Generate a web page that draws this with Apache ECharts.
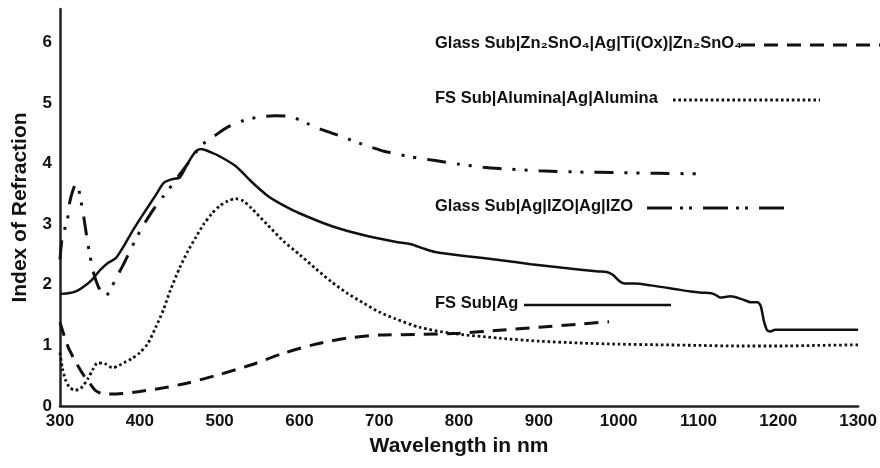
<!DOCTYPE html>
<html>
<head>
<meta charset="utf-8">
<script src="https://cdn.jsdelivr.net/npm/echarts@6/dist/echarts.min.js"></script>
<style>html,body{margin:0;padding:0;background:#fff}#c{width:880px;height:468px}</style>
</head>
<body>
<div id="c"></div>
<script>
// ---- data (wavelength in nm, index of refraction) ----
const xTicks = [300, 400, 500, 600, 700, 800, 900, 1000, 1100, 1200, 1300];
const yTicks = [0, 1, 2, 3, 4, 5, 6];

const seriesNames = [
  'Glass Sub|Zn₂SnO₄|Ag|Ti(Ox)|Zn₂SnO₄',
  'FS Sub|Alumina|Ag|Alumina',
  'Glass Sub|Ag|IZO|Ag|IZO',
  'FS Sub|Ag'
];

// FS Sub|Ag (solid)
const agX = [300,310,320,330,340,350,360,370,380,390,400,410,420,430,440,450,460,470,477,490,500,520,540,560,580,600,640,680,720,740,755,770,810,850,890,930,975,985,993,1000,1007,1020,1040,1066,1090,1104,1116,1122,1127,1140,1155,1166,1174,1178,1182,1186,1190,1196,1250,1300];
const agY = [1.85,1.86,1.89,1.97,2.08,2.24,2.36,2.44,2.64,2.87,3.08,3.28,3.48,3.68,3.74,3.77,4.0,4.2,4.24,4.18,4.12,3.96,3.7,3.47,3.31,3.18,2.97,2.82,2.71,2.67,2.6,2.54,2.47,2.41,2.34,2.28,2.22,2.21,2.16,2.07,2.02,2.02,1.99,1.94,1.89,1.87,1.86,1.83,1.79,1.81,1.76,1.71,1.71,1.65,1.4,1.25,1.23,1.26,1.26,1.26];

// FS Sub|Alumina|Ag|Alumina (dotted)
const aluX = [300,303,307,312,319,326,335,341,347,356,366,374,381,390,400,410,420,430,438,450,460,470,480,490,500,510,520,530,540,560,580,600,620,640,660,680,700,720,750,790,850,900,950,1000,1050,1100,1150,1200,1250,1300];
const aluY = [0.88,0.62,0.43,0.31,0.26,0.29,0.45,0.6,0.71,0.7,0.63,0.67,0.72,0.78,0.88,1.03,1.3,1.6,1.9,2.28,2.55,2.78,3.0,3.17,3.3,3.38,3.42,3.38,3.26,2.99,2.72,2.5,2.27,2.05,1.86,1.7,1.55,1.44,1.3,1.2,1.12,1.07,1.04,1.02,1.01,1.0,0.99,0.99,1.0,1.01];

// Glass Sub|Zn2SnO4|Ag|Ti(Ox)|Zn2SnO4 (dashed)
const znX = [300,310,320,330,337,345,355,370,400,430,460,500,540,580,620,660,700,750,800,850,900,950,988];
const znY = [1.38,0.98,0.72,0.5,0.38,0.25,0.2,0.2,0.24,0.3,0.38,0.52,0.68,0.87,1.02,1.12,1.17,1.18,1.2,1.25,1.3,1.35,1.39];

// Glass Sub|Ag|IZO|Ag|IZO (dash-dot-dot)
const izoX = [300,303,309,312,316,320,323,326,330,334,338,342,347,352,357,365,372,380,390,400,410,420,430,440,450,460,470,480,495,510,530,550,570,590,610,630,650,670,690,710,740,770,800,830,860,900,950,1000,1050,1097];
const izoY = [2.42,2.8,3.05,3.35,3.55,3.67,3.6,3.4,3.1,2.75,2.45,2.2,2.0,1.87,1.81,1.97,2.15,2.35,2.62,2.88,3.1,3.3,3.47,3.64,3.82,4.0,4.18,4.33,4.47,4.6,4.71,4.77,4.79,4.77,4.66,4.55,4.46,4.36,4.27,4.19,4.11,4.05,3.99,3.94,3.91,3.88,3.86,3.85,3.84,3.83];

// ---- chart ----
const pairs = (xs, ys) => xs.map((x, i) => [x, ys[i]]);
const INK = '#111';
const FONT = '"Liberation Sans", Arial, sans-serif';

const chart = echarts.init(document.getElementById('c'), null, {renderer: 'canvas'});

const dashZn = [14, 9];
const dotAlu = [2.6, 2.8];
const dashIzo = [19, 11, 3, 9, 3, 11];
const dashIzoLegend = [25, 8, 3, 6, 3, 11];

function lineSeries(name, data, type, width) {
  return {
    name, type: 'line', data, showSymbol: false, smooth: 0.25, animation: false,
    lineStyle: {color: INK, width, type, cap: 'butt'}
  };
}

const legendItems = [
  {text: seriesNames[0], y: 45, x1: 741, x2: 880, dash: dashZn, w: 3},
  {text: seriesNames[1], y: 100, x1: 673, x2: 820, dash: dotAlu, w: 2.8},
  {text: seriesNames[2], y: 208, x1: 647, x2: 788, dash: dashIzoLegend, w: 3},
  {text: seriesNames[3], y: 305, x1: 524, x2: 671, dash: null, w: 2.5}
];

const graphics = [];
legendItems.forEach(it => {
  graphics.push({
    type: 'text', left: 435, top: it.y - 10, silent: true,
    style: {text: it.text, fill: INK, font: 'bold 16.5px ' + FONT}
  });
  graphics.push({
    type: 'line', silent: true,
    shape: {x1: it.x1, y1: it.y, x2: it.x2, y2: it.y},
    style: {stroke: INK, lineWidth: it.w, lineDash: it.dash || null}
  });
});

chart.setOption({
  animation: false,
  backgroundColor: '#fff',
  grid: {left: 60, right: 20, top: 9, bottom: 62, containLabel: false},
  xAxis: {
    type: 'value', min: xTicks[0], max: xTicks[xTicks.length - 1], interval: 100,
    name: 'Wavelength in nm', nameLocation: 'middle', nameGap: 30,
    nameTextStyle: {color: INK, fontFamily: FONT, fontWeight: 'bold', fontSize: 21},
    axisLine: {show: true, onZero: false, lineStyle: {color: '#222', width: 2.5}},
    axisTick: {show: false},
    splitLine: {show: false},
    axisLabel: {color: INK, fontFamily: FONT, fontWeight: 'bold', fontSize: 17, margin: 7,
      formatter: v => String(v)}
  },
  yAxis: {
    type: 'value', min: 0, max: 6.55, interval: 1,
    name: 'Index of Refraction', nameLocation: 'middle', nameGap: 29,
    nameTextStyle: {color: INK, fontFamily: FONT, fontWeight: 'bold', fontSize: 21},
    axisLine: {show: true, lineStyle: {color: '#222', width: 2.5}},
    axisTick: {show: false},
    splitLine: {show: false},
    axisLabel: {color: INK, fontFamily: FONT, fontWeight: 'bold', fontSize: 17, margin: 8,
      showMaxLabel: false,
      formatter: v => (yTicks.indexOf(v) >= 0 ? String(v) : '')}
  },
  series: [
    lineSeries(seriesNames[0], pairs(znX, znY), dashZn, 3),
    lineSeries(seriesNames[1], pairs(aluX, aluY), dotAlu, 2.8),
    lineSeries(seriesNames[2], pairs(izoX, izoY), dashIzo, 3),
    lineSeries(seriesNames[3], pairs(agX, agY), 'solid', 2.5)
  ],
  graphic: graphics
});
</script>
</body>
</html>
